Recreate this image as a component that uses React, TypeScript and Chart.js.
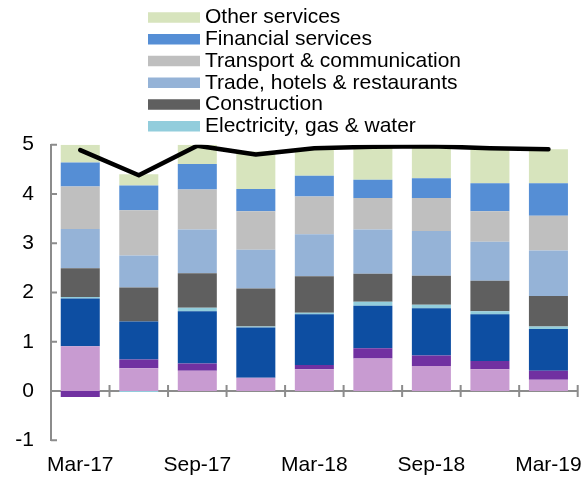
import React, { useEffect, useRef } from "react";
import { Chart, registerables } from "chart.js";

Chart.register(...registerables);

const categories = ["Mar-17", "Jun-17", "Sep-17", "Dec-17", "Mar-18", "Jun-18", "Sep-18", "Dec-18", "Mar-19"];
const shownTickLabels = ["Mar-17", "Sep-17", "Mar-18", "Sep-18", "Mar-19"];
const yTicks = [-1, 0, 1, 2, 3, 4, 5];

const agriculture = [0.91, 0.46, 0.41, 0.27, 0.44, 0.66, 0.51, 0.44, 0.23];
const mining = [-0.12, 0.18, 0.15, 0, 0.09, 0.21, 0.21, 0.17, 0.18];
const manufacturing = [0.97, 0.77, 1.06, 1.02, 1.03, 0.86, 0.96, 0.95, 0.85];
const electricity = [0.03, -0.02, 0.07, 0.02, 0.03, 0.08, 0.07, 0.06, 0.05];
const construction = [0.58, 0.69, 0.7, 0.77, 0.74, 0.57, 0.59, 0.62, 0.62];
const trade = [0.8, 0.65, 0.89, 0.79, 0.85, 0.9, 0.91, 0.79, 0.92];
const transport = [0.86, 0.92, 0.81, 0.78, 0.77, 0.64, 0.67, 0.62, 0.71];
const financial = [0.49, 0.5, 0.52, 0.45, 0.42, 0.37, 0.4, 0.57, 0.66];
const otherServices = [0.36, 0.23, 0.39, 0.76, 0.52, 0.64, 0.64, 0.69, 0.69];
const totalGrowth = [4.89, 4.38, 4.98, 4.8, 4.93, 4.96, 4.97, 4.93, 4.91];

const seriesNames = [
  "Agriculture, forestry & fishing",
  "Mining & quarrying",
  "Manufacturing",
  "Electricity, gas & water",
  "Construction",
  "Trade, hotels & restaurants",
  "Transport & communication",
  "Financial services",
  "Other services",
];
const seriesValues = [agriculture, mining, manufacturing, electricity, construction, trade, transport, financial, otherServices];
const seriesColors = ["#c89bd1", "#7131a1", "#0d4ea2", "#92cddc", "#5f5f5f", "#95b3d7", "#bfbfbf", "#558ed5", "#d7e4bd"];
const legendNames = [
  "Other services",
  "Financial services",
  "Transport & communication",
  "Trade, hotels & restaurants",
  "Construction",
  "Electricity, gas & water",
];

const FONT = '"Liberation Sans", Arial, sans-serif';
const AXIS_GRAY = "#8c8c8c";

const customPlugin = {
  id: "customAxesLegend",
  beforeDatasetsDraw(chart: any) {
    const { ctx, chartArea, scales } = chart;
    const x = scales.x;
    const y = scales.y;
    const y0 = y.getPixelForValue(0);
    const n = categories.length;
    const w = (chartArea.right - chartArea.left) / n;
    ctx.save();
    ctx.strokeStyle = AXIS_GRAY;
    ctx.lineWidth = 2;
    ctx.beginPath();
    ctx.moveTo(chartArea.left, y0);
    ctx.lineTo(chartArea.right, y0);
    for (let i = 0; i < n; i++) {
      const px = x.getPixelForValue(i) + w / 2;
      ctx.moveTo(px, y0 - 6);
      ctx.lineTo(px, y0 + 6);
    }
    ctx.stroke();
    ctx.beginPath();
    for (const v of yTicks) {
      const py = y.getPixelForValue(v);
      ctx.moveTo(chartArea.left, py);
      ctx.lineTo(chartArea.left + 6, py);
    }
    ctx.stroke();
    ctx.restore();
  },
  afterDraw(chart: any) {
    const { ctx, scales, chartArea } = chart;
    ctx.save();
    ctx.font = `21px ${FONT}`;
    ctx.fillStyle = "#000";
    // category labels (drawn here so they are not clipped by the scale box)
    ctx.textAlign = "center";
    ctx.textBaseline = "middle";
    categories.forEach((c, i) => {
      if (!shownTickLabels.includes(c)) return;
      ctx.fillText(c, scales.x.getPixelForValue(i), chartArea.bottom + 24.5);
    });
    // legend
    ctx.textAlign = "left";
    legendNames.forEach((name, i) => {
      const idx = seriesNames.indexOf(name);
      const cy = 17.5 + i * 21.75;
      ctx.fillStyle = seriesColors[idx];
      ctx.fillRect(148, cy - 5.25, 52, 10.5);
      ctx.fillStyle = "#000";
      ctx.fillText(name, 205, cy);
    });
    ctx.restore();
  },
};

export default function App() {
  const canvasRef = useRef<HTMLCanvasElement | null>(null);

  useEffect(() => {
    if (!canvasRef.current) return;
    document.body.style.margin = "0";
    const barSets = seriesNames.map((name, i) => ({
      type: "bar" as const,
      label: name,
      data: seriesValues[i],
      backgroundColor: seriesColors[i],
      borderWidth: 0,
      stack: "sectors",
      order: 1,
      categoryPercentage: 1,
      barPercentage: 0.667,
    }));
    const lineSet = {
      type: "line" as const,
      label: "GDP growth",
      data: totalGrowth,
      borderColor: "#000",
      backgroundColor: "#000",
      borderWidth: 4.5,
      pointRadius: 0,
      tension: 0,
      borderCapStyle: "round",
      borderJoinStyle: "round",
      stack: "total",
      order: 0,
      fill: false,
    };
    const chart = new Chart(canvasRef.current, {
      type: "bar",
      data: { labels: categories, datasets: [...barSets, lineSet] as any },
      options: {
        responsive: false,
        animation: false,
        devicePixelRatio: 1,
        layout: { padding: { top: 144.7, right: 3.3, left: 0, bottom: 0 } },
        plugins: { legend: { display: false }, tooltip: { enabled: false } },
        scales: {
          x: {
            stacked: true,
            offset: true,
            grid: { display: false, drawTicks: false },
            border: { display: false },
            ticks: { display: false },
            afterFit: (scale: any) => {
              scale.height = 477 - 440.3;
              scale.paddingLeft = 0;
              scale.paddingRight = 0;
            },
          },
          y: {
            stacked: true,
            min: -1,
            max: 5,
            grid: { display: false, drawTicks: false },
            border: { display: true, color: AXIS_GRAY, width: 2 },
            ticks: {
              stepSize: 1,
              padding: 17,
              color: "#000",
              font: { family: FONT, size: 21 },
            },
            afterFit: (scale: any) => {
              scale.width = 51;
              scale.paddingTop = 0;
              scale.paddingBottom = 0;
            },
          },
        },
      } as any,
      plugins: [customPlugin],
    });
    return () => chart.destroy();
  }, []);

  return (
    <div style={{ width: 581, height: 477 }}>
      <canvas ref={canvasRef} width={581} height={477} style={{ display: "block" }} />
    </div>
  );
}
